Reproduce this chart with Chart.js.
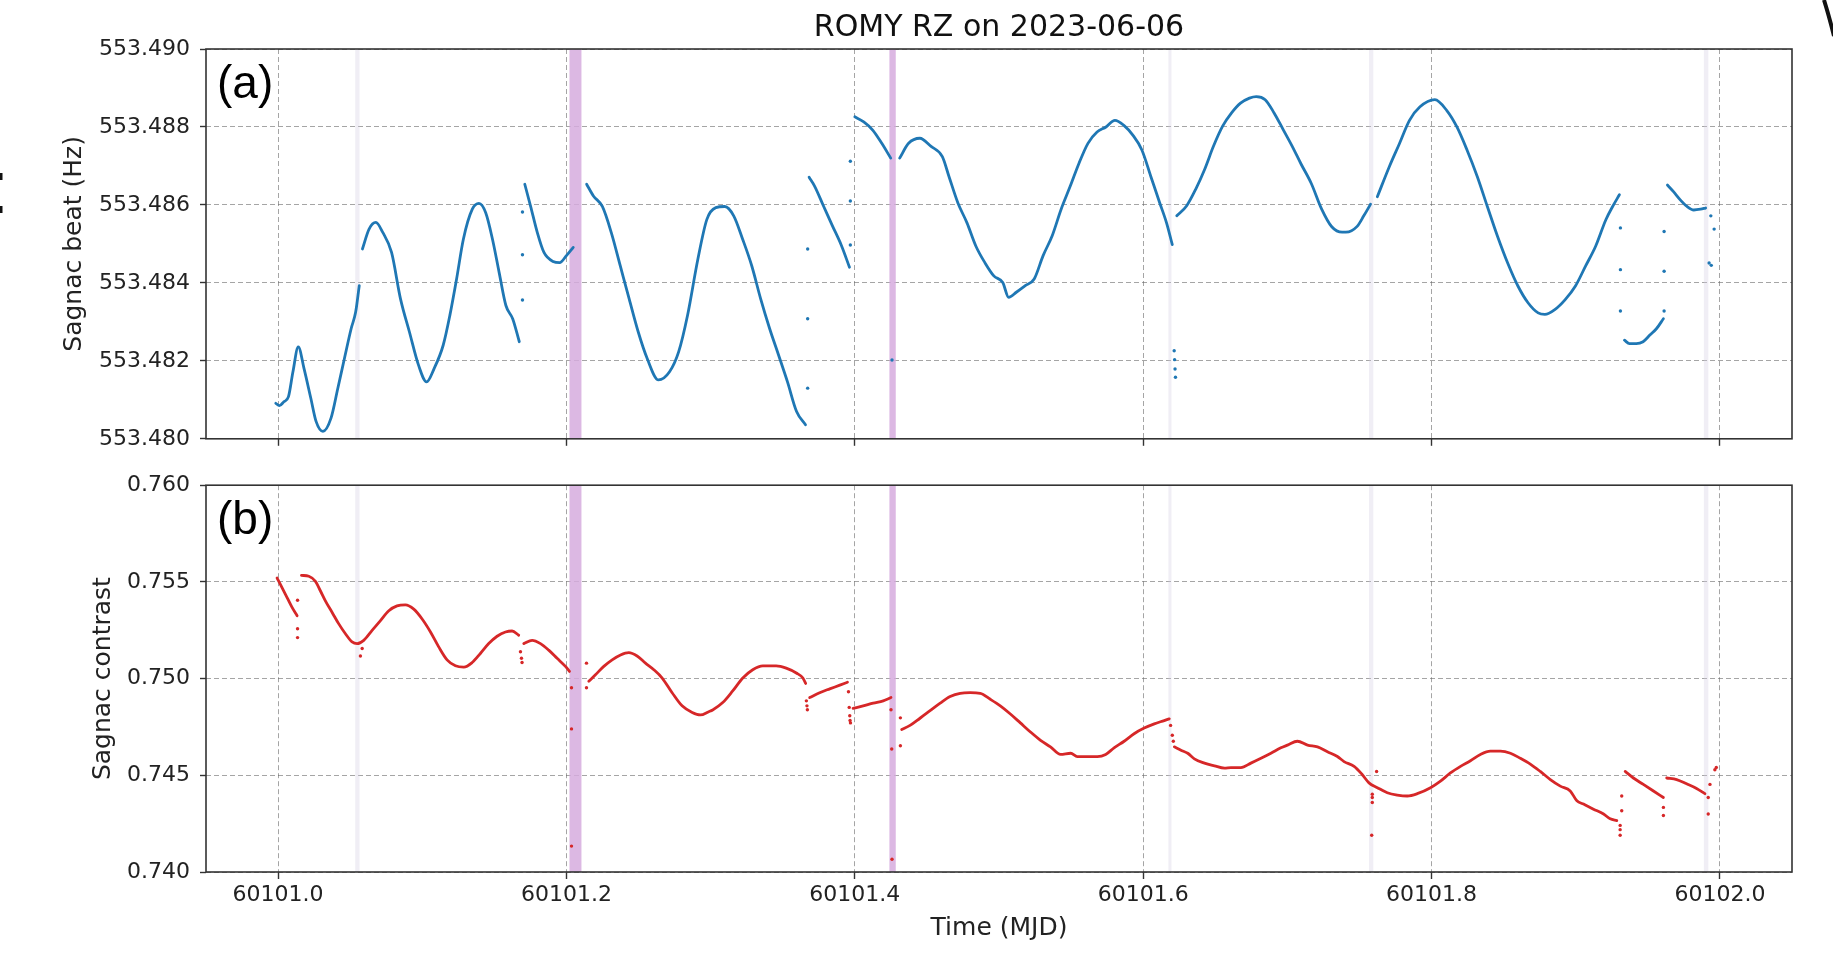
<!DOCTYPE html>
<html>
<head>
<meta charset="utf-8">
<script src="https://cdn.jsdelivr.net/npm/chart.js@4.4.1/dist/chart.umd.min.js"></script>
<style>
html,body{margin:0;padding:0;background:#fff;width:1833px;height:964px;overflow:hidden}
canvas{position:absolute;left:0}
#ca{top:0}
#cb{top:462px}
</style>
</head>
<body>
<canvas id="ca" width="1833" height="462"></canvas>
<canvas id="cb" width="1833" height="502"></canvas>
<script>
// ---------------- DATA ----------------
const chartTitle = 'ROMY RZ on 2023-06-06';
const xLabel = 'Time (MJD)';
const beatLabel = 'Sagnac beat (Hz)';
const contrastLabel = 'Sagnac contrast';

const xRange = [60100.95, 60102.05];
const xTickValues = [60101.0, 60101.2, 60101.4, 60101.6, 60101.8, 60102.0];
const xTickLabels = ['60101.0', '60101.2', '60101.4', '60101.6', '60101.8', '60102.0'];

const beatRange = [553.480, 553.490];
const beatTickValues = [553.480, 553.482, 553.484, 553.486, 553.488, 553.490];
const beatTickLabels = ['553.480', '553.482', '553.484', '553.486', '553.488', '553.490'];

const contrastRange = [0.740, 0.760];
const contrastTickValues = [0.740, 0.745, 0.750, 0.755, 0.760];
const contrastTickLabels = ['0.740', '0.745', '0.750', '0.755', '0.760'];

// Sagnac beat (null = data gap)
const beatTime = [
  60100.9984, 60101.0009, 60101.0040, 60101.0072, 60101.0103, 60101.0140, 60101.0180, 60101.0227, 60101.0264, 60101.0311, 60101.0367, 60101.0414, 60101.0460, 60101.0507, 60101.0538, 60101.0563, null,
  60101.0585, 60101.0631, 60101.0678, 60101.0725, 60101.0787, 60101.0849, 60101.0911, 60101.0974, 60101.1030, 60101.1082, 60101.1145, 60101.1191, 60101.1238, 60101.1285, 60101.1347, 60101.1393, 60101.1440, 60101.1487, 60101.1533, 60101.1580, 60101.1627, 60101.1673, null,
  60101.1711, 60101.1751, 60101.1798, 60101.1844, 60101.1907, 60101.1953, 60101.2000, 60101.2047, null,
  60101.2140, 60101.2187, 60101.2249, 60101.2311, 60101.2373, 60101.2435, 60101.2498, 60101.2560, 60101.2638, 60101.2715, 60101.2778, 60101.2840, 60101.2911, 60101.2974, 60101.3036, 60101.3098, 60101.3160, 60101.3222, 60101.3285, 60101.3347, 60101.3409, 60101.3471, 60101.3533, 60101.3596, 60101.3658, null,
  60101.3683, 60101.3720, 60101.3782, 60101.3844, 60101.3907, 60101.3963, null,
  60101.4000, 60101.4062, 60101.4124, 60101.4187, 60101.4249, null,
  60101.4311, 60101.4373, 60101.4451, 60101.4529, 60101.4607, 60101.4653, 60101.4715, 60101.4778, 60101.4840, 60101.4902, 60101.4964, 60101.5026, 60101.5067, 60101.5120, 60101.5182, 60101.5244, 60101.5306, 60101.5369, 60101.5431, 60101.5493, 60101.5555, 60101.5617, 60101.5680, 60101.5742, 60101.5804, 60101.5866, 60101.5928, 60101.5991, 60101.6053, 60101.6115, 60101.6162, 60101.6202, null,
  60101.6233, 60101.6302, 60101.6364, 60101.6426, 60101.6488, 60101.6551, 60101.6613, 60101.6675, 60101.6737, 60101.6784, 60101.6846, 60101.6908, 60101.6970, 60101.7033, 60101.7095, 60101.7166, 60101.7237, 60101.7308, 60101.7380, 60101.7406, 60101.7484, 60101.7530, 60101.7577, null,
  60101.7624, 60101.7707, 60101.7777, 60101.7847, 60101.7918, 60101.8023, 60101.8106, 60101.8176, 60101.8246, 60101.8317, 60101.8387, 60101.8458, 60101.8528, 60101.8599, 60101.8669, 60101.8739, 60101.8786, 60101.8857, 60101.8927, 60101.8998, 60101.9068, 60101.9138, 60101.9209, 60101.9256, 60101.9303, null,
  60101.9338, 60101.9373, 60101.9420, 60101.9467, 60101.9514, 60101.9561, 60101.9608, null,
  60101.9636, 60101.9678, 60101.9725, 60101.9772, 60101.9819, 60101.9866, 60101.9901
];
const beatValue = [
  553.48091, 553.48085, 553.48095, 553.48108, 553.48172, 553.48236, 553.48180, 553.48104, 553.48044, 553.48019, 553.48053, 553.48129, 553.48206, 553.48283, 553.48325, 553.48393, null,
  553.48487, 553.48538, 553.48555, 553.48530, 553.48478, 553.48359, 553.48274, 553.48189, 553.48146, 553.48180, 553.48240, 553.48316, 553.48410, 553.48512, 553.48589, 553.48604, 553.48580, 553.48512, 553.48427, 553.48342, 553.48308, 553.48249, null,
  553.48653, 553.48597, 553.48529, 553.48478, 553.48455, 553.48452, 553.48470, 553.48491, null,
  553.48653, 553.48623, 553.48596, 553.48529, 553.48444, 553.48359, 553.48274, 553.48206, 553.48151, 553.48172, 553.48223, 553.48317, 553.48460, 553.48563, 553.48593, 553.48596, 553.48572, 553.48512, 553.48444, 553.48359, 553.48283, 553.48215, 553.48146, 553.48070, 553.48036, null,
  553.48671, 553.48649, 553.48598, 553.48547, 553.48496, 553.48440, null,
  553.48826, 553.48813, 553.48792, 553.48758, 553.48720, null,
  553.48720, 553.48758, 553.48771, 553.48750, 553.48724, 553.48673, 553.48605, 553.48554, 553.48494, 553.48452, 553.48418, 553.48401, 553.48363, 553.48376, 553.48393, 553.48410, 553.48470, 553.48521, 553.48589, 553.48647, 553.48707, 553.48758, 553.48787, 553.48800, 553.48817, 553.48804, 553.48779, 553.48741, 553.48673, 553.48605, 553.48554, 553.48498, null,
  553.48572, 553.48598, 553.48640, 553.48691, 553.48751, 553.48802, 553.48836, 553.48861, 553.48874, 553.48878, 553.48870, 553.48836, 553.48794, 553.48751, 553.48705, 553.48655, 553.48590, 553.48544, 553.48530, 553.48530, 553.48545, 553.48572, 553.48602, null,
  553.48621, 553.48698, 553.48757, 553.48817, 553.48851, 553.48870, 553.48842, 553.48800, 553.48741, 553.48673, 553.48596, 553.48519, 553.48451, 553.48392, 553.48349, 553.48323, 553.48319, 553.48332, 553.48357, 553.48392, 553.48443, 553.48494, 553.48562, 553.48596, 553.48626, null,
  553.48253, 553.48244, 553.48244, 553.48249, 553.48266, 553.48283, 553.48308, null,
  553.48651, 553.48634, 553.48613, 553.48596, 553.48587, 553.48589, 553.48592
];
const beatOutlierTime = [60101.1695, 60101.1695, 60101.1695, 60101.3673, 60101.3673, 60101.3673, 60101.3969, 60101.3969, 60101.3969, 60101.4258, 60101.6215, 60101.6218, 60101.6221, 60101.6224, 60101.9310, 60101.9310, 60101.9310, 60101.9613, 60101.9613, 60101.9613, 60101.9937, 60101.9960, 60101.9925, 60101.9940];
const beatOutlierValue = [553.48582, 553.48472, 553.48356, 553.48487, 553.48308, 553.48130, 553.48712, 553.48610, 553.48497, 553.48202, 553.48226, 553.48203, 553.48179, 553.48158, 553.48541, 553.48434, 553.48328, 553.48532, 553.48430, 553.48328, 553.48572, 553.48538, 553.48451, 553.48445];

// Sagnac contrast (null = data gap)
const contrastTime = [
  60100.9993, 60101.0051, 60101.0097, 60101.0132, null,
  60101.0162, 60101.0213, 60101.0259, 60101.0294, 60101.0328, 60101.0375, 60101.0421, 60101.0467, 60101.0513, 60101.0548, 60101.0594, 60101.0652, 60101.0710, 60101.0768, 60101.0825, 60101.0883, 60101.0941, 60101.0999, 60101.1057, 60101.1114, 60101.1172, 60101.1230, 60101.1288, 60101.1346, 60101.1403, 60101.1461, 60101.1519, 60101.1577, 60101.1623, 60101.1669, null,
  60101.1704, 60101.1762, 60101.1820, 60101.1877, 60101.1935, 60101.1993, 60101.2021, null,
  60101.2155, 60101.2201, 60101.2259, 60101.2317, 60101.2375, 60101.2432, 60101.2490, 60101.2548, 60101.2606, 60101.2664, 60101.2733, 60101.2802, 60101.2872, 60101.2929, 60101.2987, 60101.3014, 60101.3084, 60101.3153, 60101.3223, 60101.3292, 60101.3362, 60101.3455, 60101.3524, 60101.3594, 60101.3640, 60101.3659, null,
  60101.3687, 60101.3756, 60101.3826, 60101.3896, 60101.3949, null,
  60101.3988, 60101.4058, 60101.4128, 60101.4197, 60101.4251, null,
  60101.4325, 60101.4383, 60101.4452, 60101.4522, 60101.4592, 60101.4661, 60101.4731, 60101.4800, 60101.4870, 60101.4940, 60101.5009, 60101.5079, 60101.5148, 60101.5218, 60101.5288, 60101.5357, 60101.5427, 60101.5497, 60101.5543, 60101.5613, 60101.5682, 60101.5740, 60101.5798, 60101.5868, 60101.5937, 60101.6007, 60101.6077, 60101.6146, 60101.6181, null,
  60101.6216, 60101.6262, 60101.6309, 60101.6355, 60101.6425, 60101.6494, 60101.6564, 60101.6609, 60101.6678, 60101.6747, 60101.6817, 60101.6886, 60101.6955, 60101.7001, 60101.7070, 60101.7140, 60101.7209, 60101.7278, 60101.7347, 60101.7393, 60101.7463, 60101.7520, 60101.7566, 60101.7624, 60101.7693, 60101.7762, 60101.7832, 60101.7901, 60101.7993, 60101.8062, 60101.8131, 60101.8201, 60101.8270, 60101.8339, 60101.8408, 60101.8478, 60101.8547, 60101.8616, 60101.8685, 60101.8754, 60101.8824, 60101.8893, 60101.8962, 60101.9008, 60101.9054, 60101.9123, 60101.9193, 60101.9239, 60101.9285, null,
  60101.9343, 60101.9400, 60101.9469, 60101.9539, 60101.9608, null,
  60101.9631, 60101.9700, 60101.9769, 60101.9838, 60101.9896
];
const contrastValue = [
  0.75520, 0.75436, 0.75368, 0.75325, null,
  0.75534, 0.75529, 0.75503, 0.75453, 0.75402, 0.75342, 0.75283, 0.75232, 0.75190, 0.75181, 0.75198, 0.75249, 0.75300, 0.75351, 0.75376, 0.75381, 0.75359, 0.75308, 0.75241, 0.75164, 0.75097, 0.75066, 0.75059, 0.75083, 0.75130, 0.75181, 0.75219, 0.75241, 0.75246, 0.75224, null,
  0.75181, 0.75198, 0.75181, 0.75147, 0.75105, 0.75063, 0.75037, null,
  0.74986, 0.75020, 0.75063, 0.75097, 0.75122, 0.75134, 0.75117, 0.75080, 0.75046, 0.75003, 0.74927, 0.74859, 0.74825, 0.74812, 0.74829, 0.74838, 0.74876, 0.74936, 0.75003, 0.75046, 0.75066, 0.75066, 0.75054, 0.75029, 0.75003, 0.74975, null,
  0.74902, 0.74927, 0.74947, 0.74966, 0.74981, null,
  0.74846, 0.74859, 0.74873, 0.74885, 0.74902, null,
  0.74737, 0.74758, 0.74795, 0.74834, 0.74873, 0.74907, 0.74924, 0.74927, 0.74924, 0.74893, 0.74859, 0.74817, 0.74771, 0.74724, 0.74681, 0.74647, 0.74608, 0.74614, 0.74597, 0.74597, 0.74597, 0.74608, 0.74642, 0.74676, 0.74715, 0.74744, 0.74766, 0.74783, 0.74792, null,
  0.74647, 0.74630, 0.74614, 0.74585, 0.74563, 0.74549, 0.74537, 0.74540, 0.74540, 0.74563, 0.74588, 0.74614, 0.74642, 0.74656, 0.74676, 0.74656, 0.74647, 0.74622, 0.74597, 0.74571, 0.74546, 0.74503, 0.74461, 0.74436, 0.74410, 0.74398, 0.74393, 0.74405, 0.74436, 0.74470, 0.74512, 0.74546, 0.74575, 0.74608, 0.74625, 0.74625, 0.74614, 0.74588, 0.74558, 0.74520, 0.74478, 0.74444, 0.74419, 0.74368, 0.74351, 0.74325, 0.74300, 0.74275, 0.74266, null,
  0.74520, 0.74486, 0.74453, 0.74419, 0.74385, null,
  0.74486, 0.74478, 0.74456, 0.74432, 0.74405
];
const contrastOutlierTime = [60101.0135, 60101.0135, 60101.0135, 60101.0571, 60101.0583, 60101.1681, 60101.1688, 60101.1692, 60101.2035, 60101.2035, 60101.2035, 60101.2139, 60101.2139, 60101.3664, 60101.3668, 60101.3671, 60101.3956, 60101.3961, 60101.3965, 60101.3967, 60101.3970, 60101.4251, 60101.4256, 60101.4258, 60101.4316, 60101.4316, 60101.6190, 60101.6202, 60101.6209, 60101.7619, 60101.7589, 60101.7589, 60101.7589, 60101.7585, 60101.9308, 60101.9308, 60101.9308, 60101.9319, 60101.9319, 60101.9608, 60101.9608, 60101.9919, 60101.9919, 60101.9931, 60101.9965, 60101.9975];
const contrastOutlierValue = [0.75405, 0.75258, 0.75212, 0.75117, 0.75156, 0.75139, 0.75105, 0.75083, 0.74953, 0.74740, 0.74134, 0.75080, 0.74953, 0.74885, 0.74859, 0.74839, 0.74932, 0.74851, 0.74808, 0.74783, 0.74771, 0.74839, 0.74636, 0.74066, 0.74797, 0.74653, 0.74758, 0.74707, 0.74676, 0.74520, 0.74402, 0.74385, 0.74359, 0.74190, 0.74241, 0.74219, 0.74190, 0.74393, 0.74317, 0.74334, 0.74292, 0.74385, 0.74300, 0.74453, 0.74529, 0.74540];

// flagged time spans (start, end)
const flagStart = [60101.0535, 60101.2021, 60101.4240, 60101.6175, 60101.7566, 60101.9889];
const flagEnd   = [60101.0565, 60101.2104, 60101.4284, 60101.6196, 60101.7596, 60101.9920];
const flagKind  = ['light', 'strong', 'strong', 'light', 'light', 'light'];

// ---------------- STYLE ----------------
const FONT = "'DejaVu Sans', sans-serif";
const BLUE = '#1f77b4';
const RED = '#d62728';
const GRID = 'rgba(105,105,105,0.6)';
const AXIS = '#333333';
const TXT = '#222222';
const FLAG_COLORS = { light: 'rgba(210,204,225,0.33)', strong: 'rgba(214,172,222,0.85)' };

Chart.defaults.font.family = FONT;

function toPoints(ts, vs) {
  const out = [];
  for (let i = 0; i < ts.length; i++) {
    if (ts[i] === null || vs[i] === null) {
      out.push({ x: ts[i - 1], y: null });
    } else {
      out.push({ x: ts[i], y: vs[i] });
    }
  }
  return out;
}

const flagPlugin = {
  id: 'flags',
  beforeDatasetsDraw(chart) {
    const { ctx, chartArea: a, scales: { x } } = chart;
    ctx.save();
    ctx.beginPath();
    ctx.rect(a.left, a.top, a.right - a.left, a.bottom - a.top);
    ctx.clip();
    for (let i = 0; i < flagStart.length; i++) {
      const x1 = x.getPixelForValue(flagStart[i]);
      const x2 = x.getPixelForValue(flagEnd[i]);
      ctx.fillStyle = FLAG_COLORS[flagKind[i]];
      ctx.fillRect(x1, a.top, Math.max(x2 - x1, 1), a.bottom - a.top);
    }
    ctx.restore();
  }
};

function framePlugin(letter, extra) {
  return {
    id: 'frame' + letter,
    afterDraw(chart) {
      const { ctx, chartArea: a } = chart;
      ctx.save();
      ctx.strokeStyle = AXIS;
      ctx.lineWidth = 1.6;
      ctx.strokeRect(a.left, a.top, a.right - a.left, a.bottom - a.top);
      ctx.fillStyle = '#000';
      ctx.font = "46px 'Liberation Sans', Arial, sans-serif";
      ctx.textAlign = 'left';
      ctx.textBaseline = 'alphabetic';
      ctx.fillText('(' + letter + ')', a.left + 11, a.top + 49);
      if (extra) extra(ctx);
      ctx.restore();
    }
  };
}

function xScale(showLabels, afterH) {
  return {
    type: 'linear',
    min: xRange[0],
    max: xRange[1],
    afterBuildTicks: (s) => { s.ticks = xTickValues.map(v => ({ value: v })); },
    ticks: {
      display: showLabels,
      autoSkip: false,
      maxRotation: 0,
      padding: 3,
      color: TXT,
      font: { family: FONT, size: 22 },
      callback: (v, i) => xTickLabels[i]
    },
    grid: {
      color: GRID, lineWidth: 1, drawTicks: true, tickLength: 7,
      tickColor: AXIS, tickWidth: 1.4, tickBorderDash: []
    },
    border: { display: false, dash: [5, 3] },
    title: showLabels ? {
      display: true, text: xLabel, color: TXT,
      font: { family: FONT, size: 25 }, padding: { top: 4, bottom: 21 }
    } : { display: false },
    afterFit: (s) => { s.height = afterH; }
  };
}

function yScale(range, vals, labels, title, titlePad) {
  return {
    type: 'linear',
    min: range[0],
    max: range[1],
    afterBuildTicks: (s) => { s.ticks = vals.map(v => ({ value: v })); },
    ticks: {
      autoSkip: false,
      padding: 10,
      color: TXT,
      font: { family: FONT, size: 22 },
      callback: (v, i) => labels[i]
    },
    grid: {
      color: GRID, lineWidth: 1, drawTicks: true, tickLength: 6,
      tickColor: AXIS, tickWidth: 1.4, tickBorderDash: []
    },
    border: { display: false, dash: [5, 3] },
    title: {
      display: true, text: title, color: TXT,
      font: { family: FONT, size: 25 }, padding: { top: titlePad, bottom: 0 }
    },
    afterFit: (s) => { s.width = 206; }
  };
}

function datasets(ts, vs, ots, ovs, color) {
  return [
    {
      data: toPoints(ts, vs),
      borderColor: color,
      borderWidth: 2.8,
      borderCapStyle: 'round',
      borderJoinStyle: 'round',
      cubicInterpolationMode: 'monotone',
      pointRadius: 0,
      spanGaps: false,
      fill: false
    },
    {
      data: ots.map((t, i) => ({ x: t, y: ovs[i] })),
      showLine: false,
      pointRadius: 1.7,
      pointBackgroundColor: color,
      pointBorderWidth: 0
    }
  ];
}

const artifacts = (ctx) => {
  ctx.fillStyle = '#111';
  ctx.fillRect(0, 173, 2.5, 7);
  ctx.fillRect(0, 206, 2.5, 7);
  ctx.strokeStyle = '#111';
  ctx.lineWidth = 4;
  ctx.beginPath();
  ctx.moveTo(1824, 0);
  ctx.quadraticCurveTo(1829, 16, 1834, 36);
  ctx.stroke();
};

new Chart(document.getElementById('ca'), {
  type: 'line',
  data: { datasets: datasets(beatTime, beatValue, beatOutlierTime, beatOutlierValue, BLUE) },
  options: {
    responsive: false,
    animation: false,
    devicePixelRatio: 1,
    layout: { padding: { top: 0, right: 41, bottom: 0, left: 0 } },
    plugins: {
      legend: { display: false },
      tooltip: { enabled: false },
      title: {
        display: true, text: chartTitle, color: '#111', fullSize: false,
        font: { family: FONT, size: 30, weight: 'normal' },
        padding: { top: 10, bottom: 3 }
      }
    },
    scales: {
      x: xScale(false, 21),
      y: yScale(beatRange, beatTickValues, beatTickLabels, beatLabel, 59)
    }
  },
  plugins: [flagPlugin, framePlugin('a', artifacts)]
});

new Chart(document.getElementById('cb'), {
  type: 'line',
  data: { datasets: datasets(contrastTime, contrastValue, contrastOutlierTime, contrastOutlierValue, RED) },
  options: {
    responsive: false,
    animation: false,
    devicePixelRatio: 1,
    layout: { padding: { top: 18, right: 41, bottom: 0, left: 0 } },
    plugins: {
      legend: { display: false },
      tooltip: { enabled: false }
    },
    scales: {
      x: xScale(true, 92),
      y: yScale(contrastRange, contrastTickValues, contrastTickLabels, contrastLabel, 88)
    }
  },
  plugins: [flagPlugin, framePlugin('b', null)]
});
</script>
</body>
</html>
